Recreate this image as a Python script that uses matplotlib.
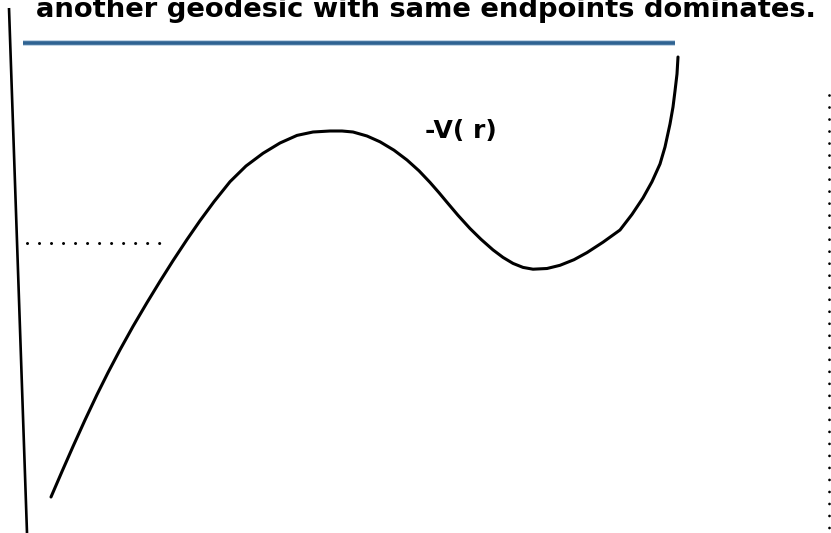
import matplotlib
matplotlib.use("Agg")
import matplotlib.pyplot as plt

# Sketch of the effective potential -V(r), in canvas pixel units (y grows downward)
curve_x = [51, 62, 73, 85, 97, 108, 120, 133, 147, 160, 173, 187, 200, 214, 230,
           246, 263, 280, 297, 313, 330, 342, 353, 367, 380, 394, 407, 419, 430,
           439, 447, 458, 470, 481, 493, 503, 513, 523, 533, 547, 560, 574, 587,
           603, 620, 632, 643, 652, 660, 665, 670, 673, 675, 677, 678]
curve_y = [497, 471.5, 446.5, 420, 394.6, 372.6, 349.8, 326.4, 302.6, 281.3, 260.7,
           239.5, 220.7, 201.7, 181.7, 166, 153.3, 143, 135.4, 132, 131, 131, 132,
           136, 141.8, 150.2, 160, 170.8, 182.4, 192.7, 202.3, 215.3, 228.5, 239.3,
           249.9, 257.4, 263.4, 267.4, 269.2, 268.5, 265.3, 259.7, 252.6, 242.2,
           230, 214.4, 197.9, 181.7, 164, 147, 124, 107, 91, 74, 57]

# Hand-drawn vertical axis (slightly tilted)
axis_x = [9, 27]
axis_y = [8, 533]

# Horizontal energy level, shown dotted
level_x = [27, 162]
level_y = [243, 243]

# Dotted vertical marker on the right
marker_x = [829, 829]
marker_y = [95, 545]

# Blue band across the top
band_x = [23, 675]
band_y = [43, 43]

title_text = "another geodesic with same endpoints dominates."
curve_label = "-V( r)"

plt.rcParams["lines.scale_dashes"] = False

W, H, DPI = 831, 533, 100
fig = plt.figure(figsize=(W / DPI, H / DPI), dpi=DPI)
ax = fig.add_axes([0, 0, 1, 1])
ax.set_xlim(0, W)
ax.set_ylim(H, 0)
ax.axis("off")

ax.plot(axis_x, axis_y, color="black", lw=1.9, solid_capstyle="butt")

ax.plot(curve_x, curve_y, color="black", lw=2.2,
        solid_joinstyle="round", solid_capstyle="round")

dot_gap = 12 * 72 / DPI
ax.plot(level_x, level_y, color="black", lw=2.2,
        linestyle=(0, (0.01, dot_gap)), dash_capstyle="round")
ax.plot(marker_x, marker_y, color="black", lw=2.0,
        linestyle=(0, (0.01, dot_gap)), dash_capstyle="round")

ax.plot(band_x, band_y, color="#9dbbd4", lw=4.0, solid_capstyle="butt", alpha=0.8)
ax.plot(band_x, band_y, color="#2f6392", lw=2.6, solid_capstyle="butt")

ax.text(36, 17, title_text, fontfamily="DejaVu Sans", fontweight="bold",
        fontsize=19.7, color="black", ha="left", va="baseline")
ax.text(425, 138, curve_label, fontfamily="DejaVu Sans", fontweight="bold",
        fontsize=18, color="black", ha="left", va="baseline")

fig.savefig("out.png", dpi=DPI)
